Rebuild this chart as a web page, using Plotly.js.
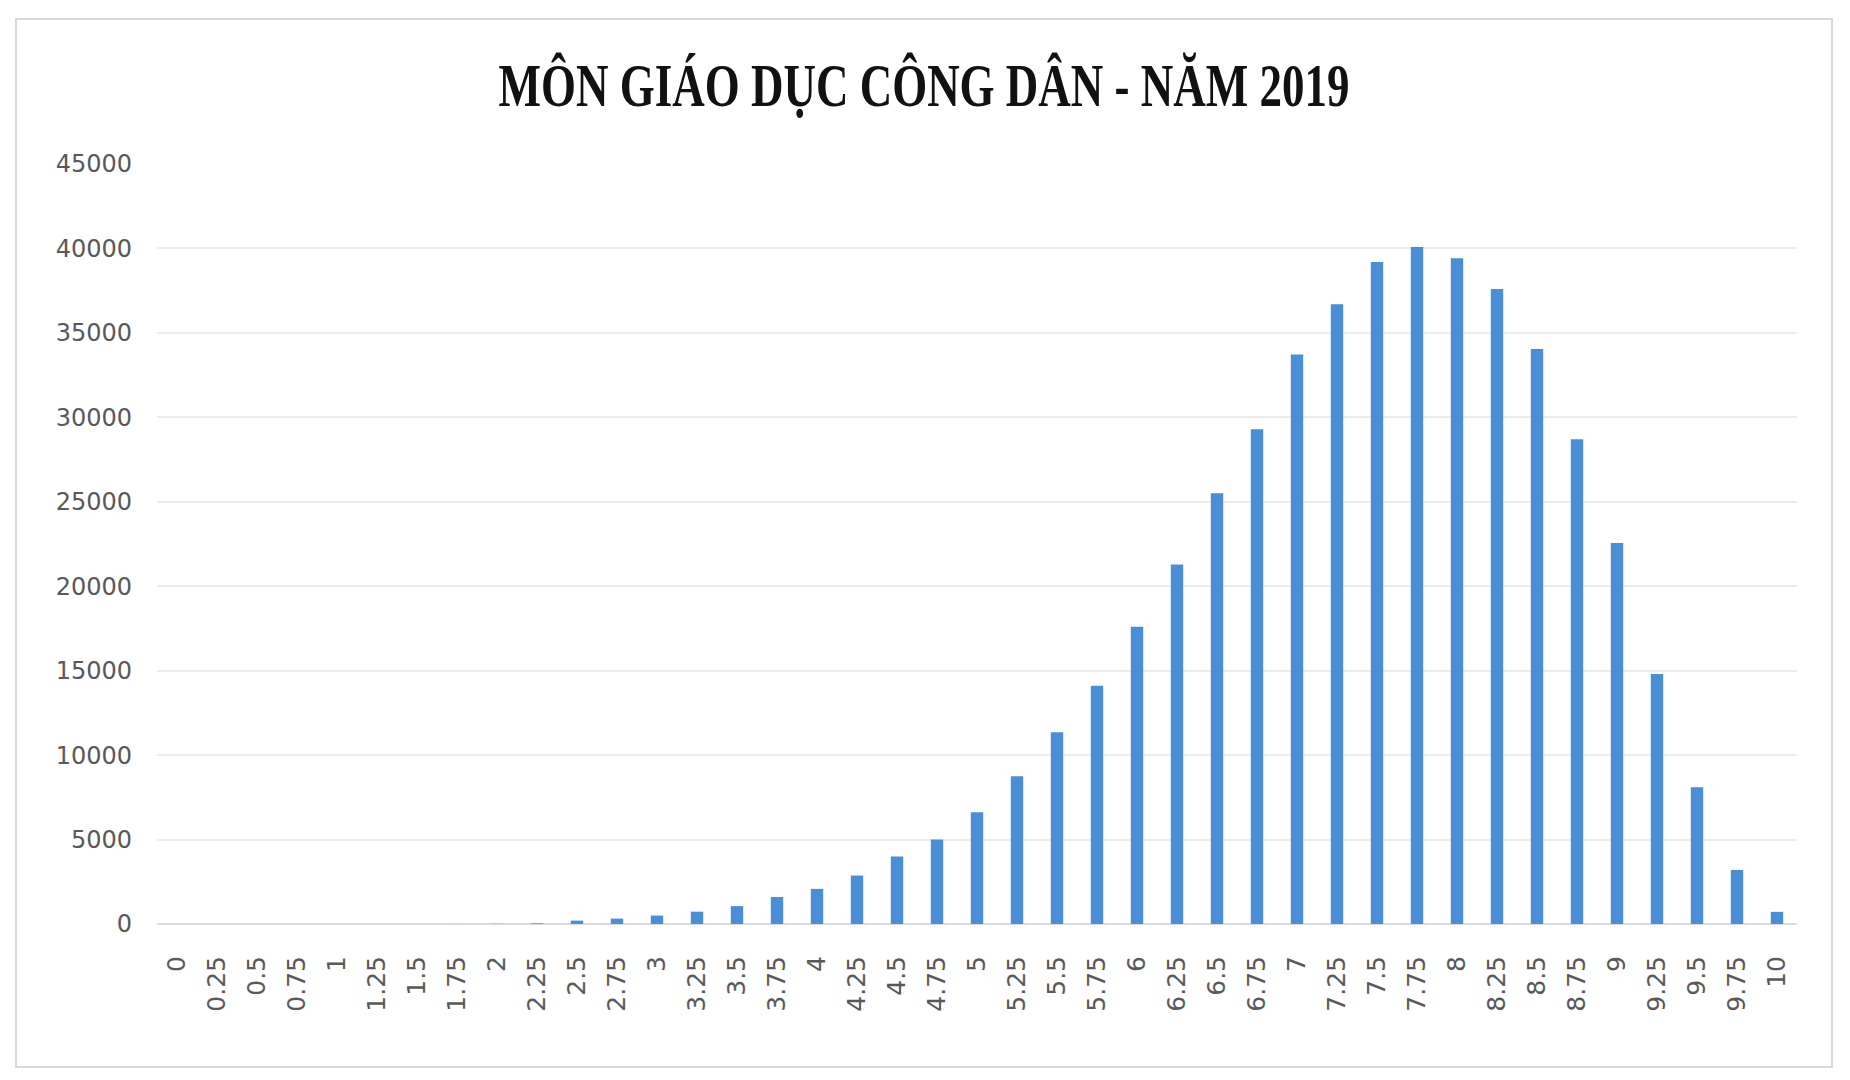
<!DOCTYPE html>
<html>
<head>
<meta charset="utf-8">
<script src="https://cdn.plot.ly/plotly-3.0.1.min.js"></script>
<style>
  html, body { margin: 0; padding: 0; background: #ffffff; }
  #frame { position: absolute; left: 15px; top: 18px; width: 1814px; height: 1046px;
           border: 2px solid #d9d9d9; background: #ffffff; }
  #chart { width: 1814px; height: 1046px; }
</style>
</head>
<body>
<div id="frame"><div id="chart"></div></div>
<script>
const scores = ["0","0.25","0.5","0.75","1","1.25","1.5","1.75","2","2.25",
  "2.5","2.75","3","3.25","3.5","3.75","4","4.25","4.5","4.75",
  "5","5.25","5.5","5.75","6","6.25","6.5","6.75","7","7.25",
  "7.5","7.75","8","8.25","8.5","8.75","9","9.25","9.5","9.75","10"];
const counts = [0,0,0,0,0,0,2,5,12,40,
  200,320,500,730,1060,1600,2080,2870,3990,5000,
  6620,8750,11350,14100,17600,21280,25500,29300,33720,36700,
  39200,40080,39420,37600,34050,28700,22560,14800,8100,3200,720];
const yTicks = [0,5000,10000,15000,20000,25000,30000,35000,40000,45000];
const chartTitle = "MÔN GIÁO DỤC CÔNG DÂN - NĂM 2019";

const trace = {
  type: "bar",
  x: scores,
  y: counts,
  marker: { color: "#4a8fd6" },
  hoverinfo: "x+y"
};

const layout = {
  width: 1814,
  height: 1046,
  paper_bgcolor: "#ffffff",
  plot_bgcolor: "#ffffff",
  margin: { l: 140, r: 34, t: 144, b: 142 },
  bargap: 0.69,
  showlegend: false,
  title: {
    text: "<b>" + chartTitle + "</b>",
    font: { family: "Liberation Serif, Times New Roman, serif", size: 45, color: "#111111" },
    x: 0.5, xanchor: "center",
    y: 0.938, yanchor: "middle", yref: "container"
  },
  xaxis: {
    type: "category",
    tickangle: -90,
    tickfont: { family: "DejaVu Sans, Liberation Sans, sans-serif", size: 25, color: "#595959" },
    showgrid: false,
    showline: false,
    ticks: "",
    ticklabelstandoff: 26,
    fixedrange: true
  },
  yaxis: {
    range: [0, 45000],
    tickvals: yTicks,
    ticktext: yTicks.map(String),
    tickfont: { family: "DejaVu Sans, Liberation Sans, sans-serif", size: 24, color: "#595959" },
    showgrid: true,
    gridcolor: "#ececec",
    gridwidth: 2,
    zeroline: true,
    zerolinecolor: "#dcdcdc",
    zerolinewidth: 2,
    showline: false,
    ticks: "",
    ticklabelstandoff: 24,
    fixedrange: true
  }
};

Plotly.newPlot("chart", [trace], layout, { displayModeBar: false, staticPlot: true }).then(function () {
  const t = document.querySelector("#chart .gtitle");
  if (t) {
    const bb = t.getBBox();
    const cx = bb.x + bb.width / 2;
    const cy = bb.y + bb.height / 2;
    t.setAttribute("transform",
      "translate(" + cx + "," + cy + ") scale(1,1.35) translate(" + (-cx) + "," + (-cy) + ")");
  }
});
</script>
</body>
</html>
